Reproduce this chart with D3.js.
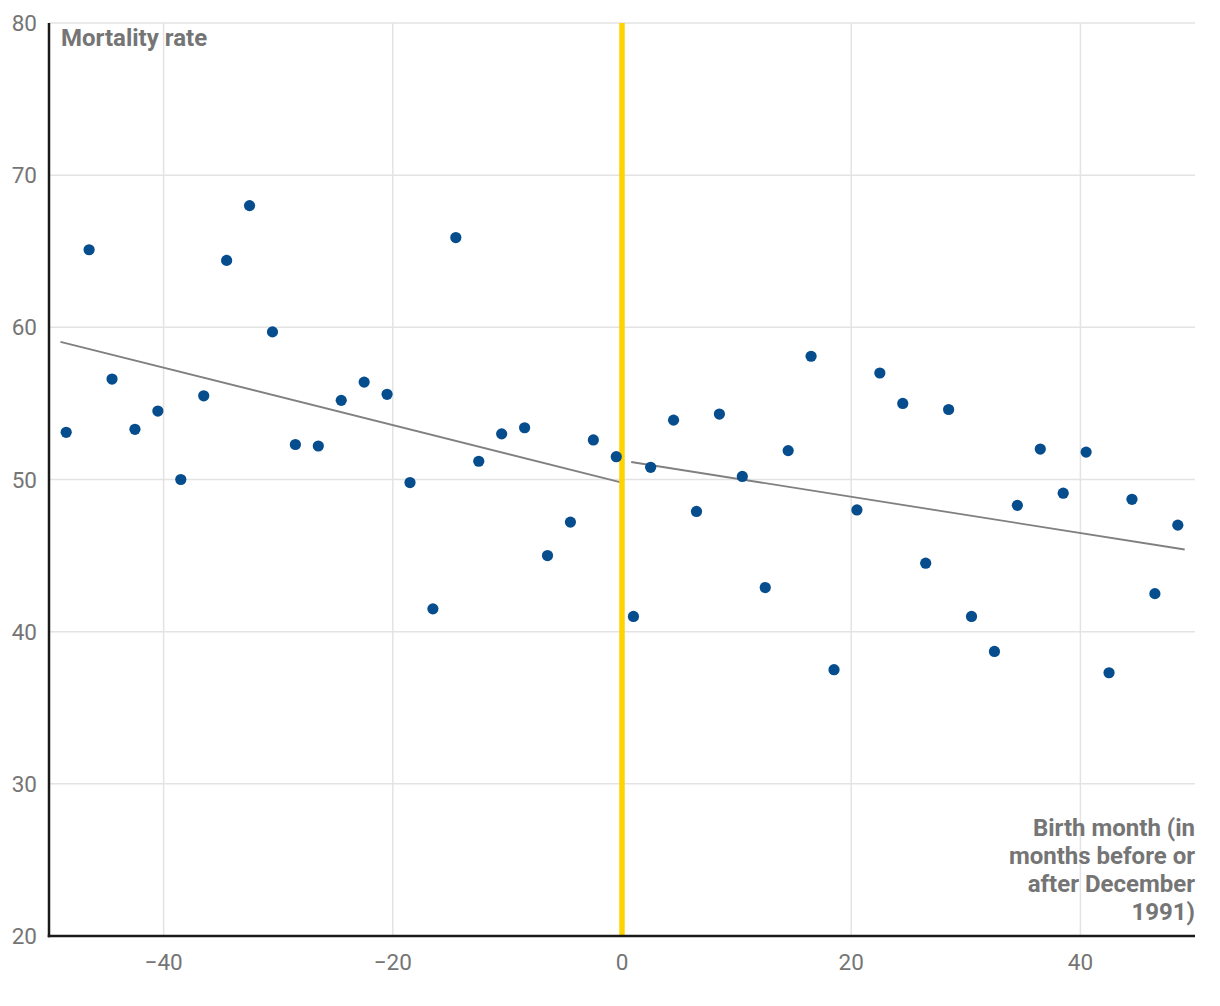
<!DOCTYPE html>
<html>
<head>
<meta charset="utf-8">
<script src="https://cdn.jsdelivr.net/npm/d3@7"></script>
<style>
  html, body { margin: 0; padding: 0; background: #fff; }
  svg { display: block; font-family: Roboto, "Noto Sans", sans-serif; }
</style>
</head>
<body>
<svg id="chart" width="1220" height="1006"></svg>
<script>
// ---- data ----
const months = [-48.5, -46.5, -44.5, -42.5, -40.5, -38.5, -36.5, -34.5, -32.5, -30.5,
  -28.5, -26.5, -24.5, -22.5, -20.5, -18.5, -16.5, -14.5, -12.5, -10.5,
  -8.5, -6.5, -4.5, -2.5, -0.5, 1, 2.5, 4.5, 6.5, 8.5,
  10.5, 12.5, 14.5, 16.5, 18.5, 20.5, 22.5, 24.5, 26.5, 28.5,
  30.5, 32.5, 34.5, 36.5, 38.5, 40.5, 42.5, 44.5, 46.5, 48.5];
const mortality = [53.1, 65.1, 56.6, 53.3, 54.5, 50.0, 55.5, 64.4, 68.0, 59.7,
  52.3, 52.2, 55.2, 56.4, 55.6, 49.8, 41.5, 65.9, 51.2, 53.0,
  53.4, 45.0, 47.2, 52.6, 51.5, 41.0, 50.8, 53.9, 47.9, 54.3,
  50.2, 42.9, 51.9, 58.1, 37.5, 48.0, 57.0, 55.0, 44.5, 54.6,
  41.0, 38.7, 48.3, 52.0, 49.1, 51.8, 37.3, 48.7, 42.5, 47.0];
const fitLeftX = [-49, 0];
const fitLeftY = [59.05, 49.8];
const fitRightX = [0.8, 49.1];
const fitRightY = [51.15, 45.4];
const cutoff = 0;
const xTicks = [-40, -20, 0, 20, 40];
const yTicks = [20, 30, 40, 50, 60, 70, 80];
const yTitle = "Mortality rate";
const xTitleLines = ["Birth month (in", "months before or", "after December", "1991)"];

// ---- layout ----
const svg = d3.select("#chart");
const L = 49, R = 1195, T = 23, B = 936;
const x = d3.scaleLinear().domain([-50, 50]).range([L, R]);
const y = d3.scaleLinear().domain([20, 80]).range([B, T]);
const textCol = "#757575";

// grid
svg.append("g").selectAll("line.h").data(yTicks.filter(d => d > 20)).join("line")
  .attr("x1", L).attr("x2", R).attr("y1", d => y(d)).attr("y2", d => y(d))
  .attr("stroke", "#e3e3e3").attr("stroke-width", 1.5);
svg.append("g").selectAll("line.v").data(xTicks).join("line")
  .attr("x1", d => x(d)).attr("x2", d => x(d)).attr("y1", T).attr("y2", B)
  .attr("stroke", "#e3e3e3").attr("stroke-width", 1.5);

// y tick labels
svg.append("g").selectAll("text").data(yTicks).join("text")
  .attr("x", 37).attr("y", d => y(d))
  .attr("text-anchor", "end").attr("dominant-baseline", "central")
  .attr("fill", textCol).attr("font-size", 22.5).text(d => d);

// x tick labels
svg.append("g").selectAll("text").data(xTicks).join("text")
  .attr("x", d => x(d)).attr("y", 970)
  .attr("text-anchor", "middle")
  .attr("fill", textCol).attr("font-size", 22.5).text(d => d3.format("")(d).replace("-", "\u2212"));

// fit lines
const line = d3.line().x(d => x(d[0])).y(d => y(d[1]));
svg.append("path").datum(fitLeftX.map((v, i) => [v, fitLeftY[i]]))
  .attr("d", line).attr("fill", "none").attr("stroke", "#808080").attr("stroke-width", 1.8);
svg.append("path").datum(fitRightX.map((v, i) => [v, fitRightY[i]]))
  .attr("d", line).attr("fill", "none").attr("stroke", "#808080").attr("stroke-width", 1.8);

// cutoff line
svg.append("line")
  .attr("x1", x(cutoff)).attr("x2", x(cutoff)).attr("y1", T).attr("y2", B)
  .attr("stroke", "#ffd200").attr("stroke-width", 5.5);

// dots
svg.append("g").selectAll("circle").data(months.map((m, i) => [m, mortality[i]])).join("circle")
  .attr("cx", d => x(d[0])).attr("cy", d => y(d[1])).attr("r", 5.6)
  .attr("fill", "#064d8e");

// axes lines
svg.append("line").attr("x1", L).attr("x2", L).attr("y1", T).attr("y2", B + 1.25)
  .attr("stroke", "#1a1a1a").attr("stroke-width", 2.5);
svg.append("line").attr("x1", L - 1.25).attr("x2", R).attr("y1", B).attr("y2", B)
  .attr("stroke", "#1a1a1a").attr("stroke-width", 2.5);

// titles
svg.append("text").attr("x", 61).attr("y", 46)
  .attr("fill", textCol).attr("font-size", 24).attr("font-weight", "bold").text(yTitle);
svg.append("g").selectAll("text").data(xTitleLines).join("text")
  .attr("x", R).attr("y", (d, i) => 836 + i * 28)
  .attr("text-anchor", "end").attr("fill", textCol)
  .attr("font-size", 24).attr("font-weight", "bold").text(d => d);
</script>
</body>
</html>
